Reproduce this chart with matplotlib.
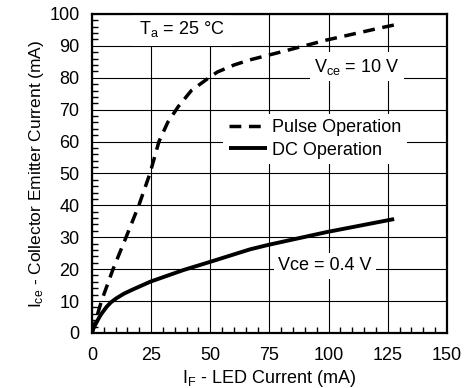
import numpy as np
import matplotlib
matplotlib.use("Agg")
import matplotlib.pyplot as plt
from matplotlib.ticker import MultipleLocator

plt.rcParams['font.family'] = ['Liberation Sans', 'DejaVu Sans']
plt.rcParams['mathtext.fontset'] = 'custom'
plt.rcParams['mathtext.rm'] = 'Liberation Sans'
plt.rcParams['mathtext.it'] = 'Liberation Sans'

# Pulse operation, Vce = 10 V
pulse_if = [0, 4, 8.9, 14.4, 19.8, 24.5, 28.3, 32, 36.5, 42, 49.4, 53, 60, 66.7, 79.4, 99, 121.7, 130]
pulse_ice = [0, 10, 20, 30, 40, 50, 60, 66, 71, 76, 80, 81.8, 84, 85.6, 88, 91.8, 95.6, 96.9]

# DC operation, Vce = 0.4 V
dc_if = [0, 0.5, 1, 2, 3, 4, 6.2, 8, 10.4, 13.5, 17.5, 24.8, 38.6, 49.6, 66.8, 74.5, 99.1, 127.7]
dc_ice = [0, 1.2, 2, 3.4, 4.8, 6, 8.2, 9.6, 10.9, 12.3, 13.7, 16.1, 19.7, 22.2, 26.2, 27.6, 31.6, 35.7]

fig = plt.figure(figsize=(4.67, 3.88), dpi=100)
ax = fig.add_axes([0.197, 0.142, 0.76, 0.822])

ax.plot(pulse_if, pulse_ice, color='black', lw=2.5, dashes=(3.4, 2.2),
        label='Pulse Operation', zorder=3)
ax.plot(dc_if, dc_ice, color='black', lw=2.8, label='DC Operation',
        solid_capstyle='butt', zorder=3)

ax.set_xlim(0, 150)
ax.set_ylim(0, 100)
ax.xaxis.set_major_locator(MultipleLocator(25))
ax.yaxis.set_major_locator(MultipleLocator(10))
ax.xaxis.set_minor_locator(MultipleLocator(5))
ax.yaxis.set_minor_locator(MultipleLocator(2))
ax.tick_params(which='major', length=0, labelsize=13, pad=10)
ax.tick_params(axis='y', which='major', pad=9)
ax.tick_params(which='minor', direction='in', length=4, width=1,
               top=False, right=False)
ax.grid(True, which='major', color='black', lw=0.8)
for s in ax.spines.values():
    s.set_linewidth(1.6)
    s.set_zorder(6)

ax.set_xlabel('I$_{\\rm F}$ - LED Current (mA)', fontsize=13, labelpad=3)
ax.set_ylabel('I$_{\\rm ce}$ - Collector Emitter Current (mA)', fontsize=12.5, labelpad=2)

box = dict(facecolor='white', edgecolor='none', pad=3)
ax.text(37.8, 95.2, 'T$_{\\rm a}$ = 25 °C', fontsize=13, ha='center', va='center',
        bbox=dict(facecolor='white', edgecolor='none', pad=5), zorder=4)
ax.text(112, 83.5, 'V$_{\\rm ce}$ = 10 V', fontsize=13, ha='center', va='center',
        bbox=box, zorder=4)
ax.text(98.5, 21, 'Vce = 0.4 V', fontsize=13, ha='center', va='center',
        bbox=box, zorder=4)

leg = ax.legend(loc='upper left', bbox_to_anchor=(0.345, 0.715), fontsize=13,
                handlelength=2.1, handletextpad=0.3, labelspacing=0.3,
                borderpad=0.3, frameon=True, fancybox=False)
leg.get_frame().set_facecolor('white')
leg.get_frame().set_edgecolor('none')
leg.get_frame().set_alpha(1)
leg.set_zorder(5)

fig.savefig('out.png', dpi=100)
